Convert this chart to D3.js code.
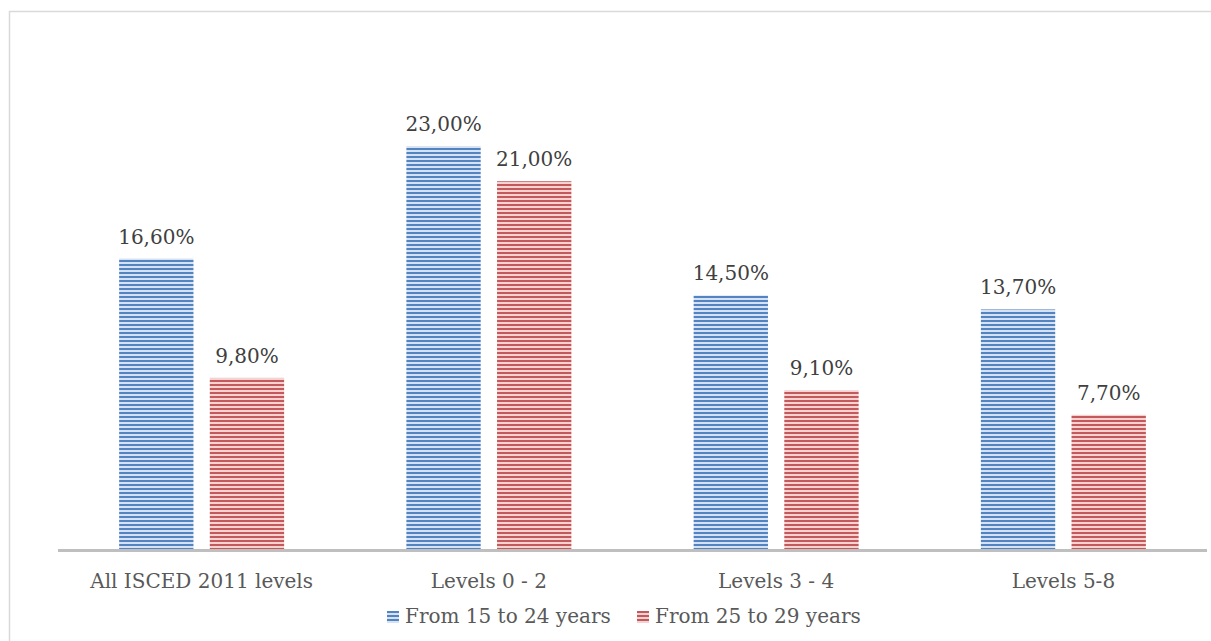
<!DOCTYPE html>
<html>
<head>
<meta charset="utf-8">
<script src="https://cdn.jsdelivr.net/npm/d3@7"></script>
<style>
  body { margin: 0; background: #fff; }
  svg { display: block; font-family: "DejaVu Serif", serif; }
</style>
</head>
<body>
<div id="chart"></div>
<script>
// === Data ===
const categories = ["All ISCED 2011 levels", "Levels 0 - 2", "Levels 3 - 4", "Levels 5-8"];
const seriesNames = ["From 15 to 24 years", "From 25 to 29 years"];
const young = [16.6, 23.0, 14.5, 13.7];
const older = [9.8, 21.0, 9.1, 7.7];

const width = 1211;
const height = 641;

const svg = d3.select("#chart")
  .append("svg")
  .attr("width", width)
  .attr("height", height);

// === Stripe patterns ===
const defs = svg.append("defs");
const colors = [
  { id: "stripeBlue", dark: "#5384c2", light: "#d6e2f2" },
  { id: "stripeRed", dark: "#c4585a", light: "#f2d3d2" }
];
colors.forEach((c) => {
  const p = defs.append("pattern")
    .attr("id", c.id)
    .attr("patternUnits", "userSpaceOnUse")
    .attr("width", 8)
    .attr("height", 4);
  p.append("rect").attr("width", 8).attr("height", 4).attr("fill", c.light);
  p.append("rect").attr("width", 8).attr("height", 2).attr("fill", c.dark);
});

// === Outer frame ===
svg.append("rect")
  .attr("x", 9.5)
  .attr("y", 11.5)
  .attr("width", 1220)
  .attr("height", 650)
  .attr("fill", "none")
  .attr("stroke", "#d9d9d9")
  .attr("stroke-width", 1.5);

// === Scales ===
const pairW = 165;
const x0 = d3.scaleBand().domain(categories).range([58, 1207]);
const x1 = d3.scaleBand().domain(seriesNames).range([0, pairW]).paddingInner(0.18);
const y = d3.scaleLinear().domain([0, 25]).range([550, 111]);

const rows = categories.map((c, i) => ({ cat: c, vals: [young[i], older[i]] }));

const groups = svg.selectAll("g.cat")
  .data(rows)
  .enter()
  .append("g")
  .attr("transform", (d) => `translate(${x0(d.cat) + x0.bandwidth() / 2 - pairW / 2},0)`);

groups.selectAll("rect")
  .data((d) => d.vals.map((v, j) => ({ v, s: seriesNames[j], j })))
  .enter()
  .append("rect")
  .attr("x", (d) => x1(d.s))
  .attr("y", (d) => y(d.v))
  .attr("width", x1.bandwidth())
  .attr("height", (d) => y(0) - y(d.v))
  .attr("fill", (d) => `url(#${colors[d.j].id})`);

groups.selectAll("text")
  .data((d) => d.vals.map((v, j) => ({ v, s: seriesNames[j] })))
  .enter()
  .append("text")
  .attr("x", (d) => x1(d.s) + x1.bandwidth() / 2)
  .attr("y", (d) => y(d.v) - 15)
  .attr("text-anchor", "middle")
  .attr("font-size", "20px")
  .attr("fill", "#404040")
  .text((d) => d3.format(".2f")(d.v).replace(".", ",") + "%");

// === Axis ===
svg.append("line")
  .attr("x1", 58).attr("x2", 1207)
  .attr("y1", 550.5).attr("y2", 550.5)
  .attr("stroke", "#bfbfbf")
  .attr("stroke-width", 3);

svg.selectAll("text.cat")
  .data(categories)
  .enter()
  .append("text")
  .attr("class", "cat")
  .attr("x", (d) => x0(d) + x0.bandwidth() / 2)
  .attr("y", 588)
  .attr("text-anchor", "middle")
  .attr("font-size", "20px")
  .attr("fill", "#595959")
  .text((d) => d);

// === Legend ===
const legendX = [387, 637];
const legend = svg.selectAll("g.leg")
  .data(seriesNames)
  .enter()
  .append("g")
  .attr("transform", (d, i) => `translate(${legendX[i]},611)`);

legend.append("rect")
  .attr("width", 12).attr("height", 12)
  .attr("fill", (d, i) => `url(#${colors[i].id})`);

legend.append("text")
  .attr("x", 18)
  .attr("y", 12)
  .attr("font-size", "20px")
  .attr("fill", "#595959")
  .text((d) => d);
</script>
</body>
</html>
